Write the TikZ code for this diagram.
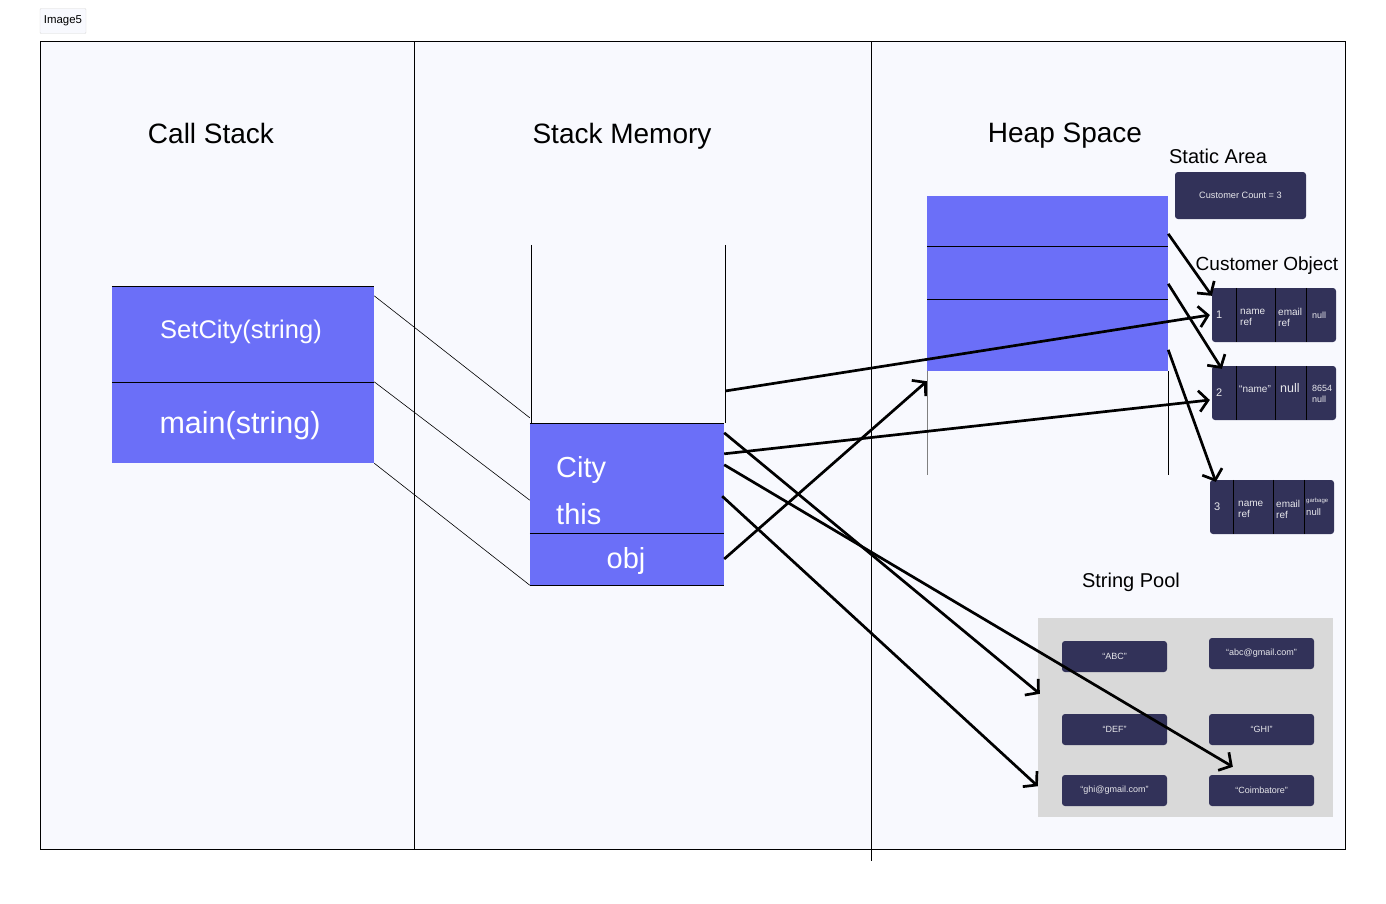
\documentclass[tikz,border=0pt]{standalone}
\usepackage{fontspec}
\setmainfont{Liberation Sans}
\usetikzlibrary{arrows.meta}

\definecolor{frameBg}{HTML}{F8F9FE}
\definecolor{memBlue}{HTML}{6B6FF8}
\definecolor{objDark}{HTML}{323259}
\definecolor{poolGray}{HTML}{D9D9D9}

\newcommand{\fs}[1]{\fontsize{#1}{#1}\selectfont}

\tikzset{
  title/.style={font=\fs{28}},
  subtitle/.style={font=\fs{20}},
  memcell/.style={fill=memBlue, text=white, inner sep=0pt},
  objbox/.style={fill=objDark, rounded corners=3pt, inner sep=0pt},
  celltxt/.style={text=white!88!objDark, anchor=west, align=left, inner sep=0pt,
    font=\fontsize{10}{11}\selectfont},
  strbox/.style={objbox, text=white!88!objDark, minimum width=105pt, minimum height=31pt,
    font=\fs{9}},
  link/.style={line width=0.6pt},
  ptr/.style={line width=2.7pt, -{Straight Barb[length=9pt,width=21pt]}}
}

\begin{document}
\begin{tikzpicture}[x=1pt,y=-1pt]
  \useasboundingbox (0,0) rectangle (1386,903);
  \fill[white] (0,0) rectangle (1386,903);

  % tag and frame
  \node[draw=gray!30, fill=frameBg, rounded corners=1pt, font=\fs{11.4}, inner sep=0pt,
    minimum width=46pt, minimum height=25pt] (tag) at (63,21) {Image5};
  \draw[fill=frameBg, line width=0.8pt] (40,41) rectangle (1345,849);
  \draw[line width=0.8pt] (414,41) -- (414,849);
  \draw[line width=0.8pt] (871,41) -- (871,861);

  % titles
  \node[title] (callTitle) at (211,133) {Call Stack};
  \node[title] (memTitle) at (622,136) {Stack Memory};
  \node[title] (heapTitle) at (1065,136) {Heap Space};
  \node[subtitle] (staticTitle) at (1218,156) {Static Area};
  \node[font=\fs{19}] (objTitle) at (1267,266) {Customer Object};
  \node[subtitle] (poolTitle) at (1131,582) {String Pool};

  % call stack
  \node[memcell, minimum width=262pt, minimum height=96pt] (setCity) at (243,334) {};
  \node[memcell, minimum width=262pt, minimum height=81pt] (mainFn) at (243,422.5) {};
  \draw (setCity.north west) -- (setCity.north east);
  \draw (mainFn.north west) -- (mainFn.north east);
  \node[text=white, font=\fs{25.5}] (setCityTxt) at (241,332) {SetCity(string)};
  \node[text=white, font=\fs{30.5}] (mainTxt) at (240,426) {main(string)};

  % stack memory
  \node[minimum width=194pt, minimum height=178pt, inner sep=0pt] (well) at (628,334) {};
  \draw (well.north west) -- (well.south west);
  \draw (well.north east) -- (well.south east);
  \node[memcell, minimum width=194pt, minimum height=110pt] (frameTop) at (627,478) {};
  \node[memcell, minimum width=194pt, minimum height=52pt] (frameObj) at (627,559) {};
  \draw (frameTop.north west) -- (frameTop.north east);
  \draw (frameObj.north west) -- (frameObj.north east);
  \draw (frameObj.south west) -- (frameObj.south east);
  \node[text=white, font=\fs{29}, anchor=west, inner sep=0pt] (cityVar) at (556,470) {City};
  \node[text=white, font=\fs{29}, anchor=west, inner sep=0pt] (thisVar) at (556,514) {this};
  \node[text=white, font=\fs{29}] (objVar) at (626,561) {obj};

  \draw[link] ([yshift=-10pt]setCity.north east) -- ([yshift=5pt]frameTop.north west);
  \draw[link] (mainFn.north east) -- ([yshift=33pt]frameTop.south west);
  \draw[link] (mainFn.south east) -- (frameObj.south west);

  % heap
  \node[fill=memBlue, minimum width=241pt, minimum height=175pt, inner sep=0pt] (heap) at (1047.5,283.5) {};
  \draw ([yshift=-50pt]heap.north west) -- ([yshift=-50pt]heap.north east);
  \draw ([yshift=-103pt]heap.north west) -- ([yshift=-103pt]heap.north east);
  \draw[gray] (heap.south west) -- ++(0,104);
  \draw (heap.south east) -- ++(0,104);

  % static area
  \node[objbox, text=white!88!objDark, minimum width=131pt, minimum height=47pt, font=\fs{9.2}] (static) at (1240.5,195.5) {Customer Count = 3};

  % customer objects
  \node[objbox, minimum width=124pt, minimum height=54pt] (obj1) at (1274,315) {};
  \foreach \dx in {24,63,94}
    \draw ([xshift=\dx pt]obj1.north west) -- ([xshift=\dx pt]obj1.south west);
  \node[celltxt, font=\fs{11}] (o1id) at (1216,315) {1};
  \node[celltxt] (o1name) at (1240,317) {name\\ref};
  \node[celltxt] (o1mail) at (1278,317) {email\\ref};
  \node[celltxt, font=\fs{9}] (o1next) at (1312,315) {null};

  \node[objbox, minimum width=124pt, minimum height=54pt] (obj2) at (1274,393) {};
  \foreach \dx in {24,63,94}
    \draw ([xshift=\dx pt]obj2.north west) -- ([xshift=\dx pt]obj2.south west);
  \node[celltxt, font=\fs{11}] (o2id) at (1216,393) {2};
  \node[celltxt] (o2name) at (1239,389) {“name”};
  \node[celltxt, font=\fs{12.5}] (o2mail) at (1280,388) {null};
  \node[celltxt, font=\fontsize{9}{11}\selectfont] (o2next) at (1312,394) {8654\\null};

  \node[objbox, minimum width=124pt, minimum height=54pt] (obj3) at (1272,507) {};
  \foreach \dx in {23,63,94}
    \draw ([xshift=\dx pt]obj3.north west) -- ([xshift=\dx pt]obj3.south west);
  \node[celltxt, font=\fs{11}] (o3id) at (1214,507) {3};
  \node[celltxt] (o3name) at (1238,509) {name\\ref};
  \node[celltxt] (o3mail) at (1276,509) {email\\ref};
  \node[celltxt, font=\fs{6}] (o3gc) at (1306,501) {garbage};
  \node[celltxt, font=\fs{9.5}] (o3next) at (1306,512) {null};

  % string pool
  \node[fill=poolGray, minimum width=295pt, minimum height=199pt, inner sep=0pt] (pool) at (1185.5,717.5) {};
  \node[strbox] (sABC) at (1114.5,656.5) {“ABC”};
  \node[strbox] (sAbcMail) at (1261.5,653.5) {“abc@gmail.com”};
  \node[strbox] (sDEF) at (1114.5,729.5) {“DEF”};
  \node[strbox] (sGHI) at (1261.5,729.5) {“GHI”};
  \node[strbox] (sGhiMail) at (1114.5,790.5) {“ghi@gmail.com”};
  \node[strbox] (sCoim) at (1261.5,790.5) {“Coimbatore”};

  % references
  \draw[ptr] ([yshift=-38pt]heap.north east) -- ([yshift=-8pt]obj1.north west);
  \draw[ptr] ([yshift=-88pt]heap.north east) -- ([xshift=10pt,yshift=-3pt]obj2.north west);
  \draw[ptr] ([yshift=-154pt]heap.north east) -- ([xshift=6pt,yshift=-2pt]obj3.north west);
  \draw[ptr] ([yshift=-57pt]well.east) -- ([xshift=-2pt]obj1.west);
  \draw[ptr] ([yshift=-31pt]frameTop.north east) -- ([xshift=-2pt,yshift=-7pt]obj2.west);
  \draw[ptr] ([yshift=-10pt]frameTop.north east) -- ([xshift=2pt,yshift=-76pt]pool.north west);
  \draw[ptr] ([yshift=-42pt]frameTop.north east) -- ([xshift=24pt,yshift=8pt]sCoim.north west);
  \draw[ptr] ([xshift=-2pt,yshift=37pt]frameTop.south east) -- ([yshift=31pt]pool.south west);
  \draw[ptr] (frameObj.east) -- ([yshift=-10pt]heap.south west);
\end{tikzpicture}
\end{document}
